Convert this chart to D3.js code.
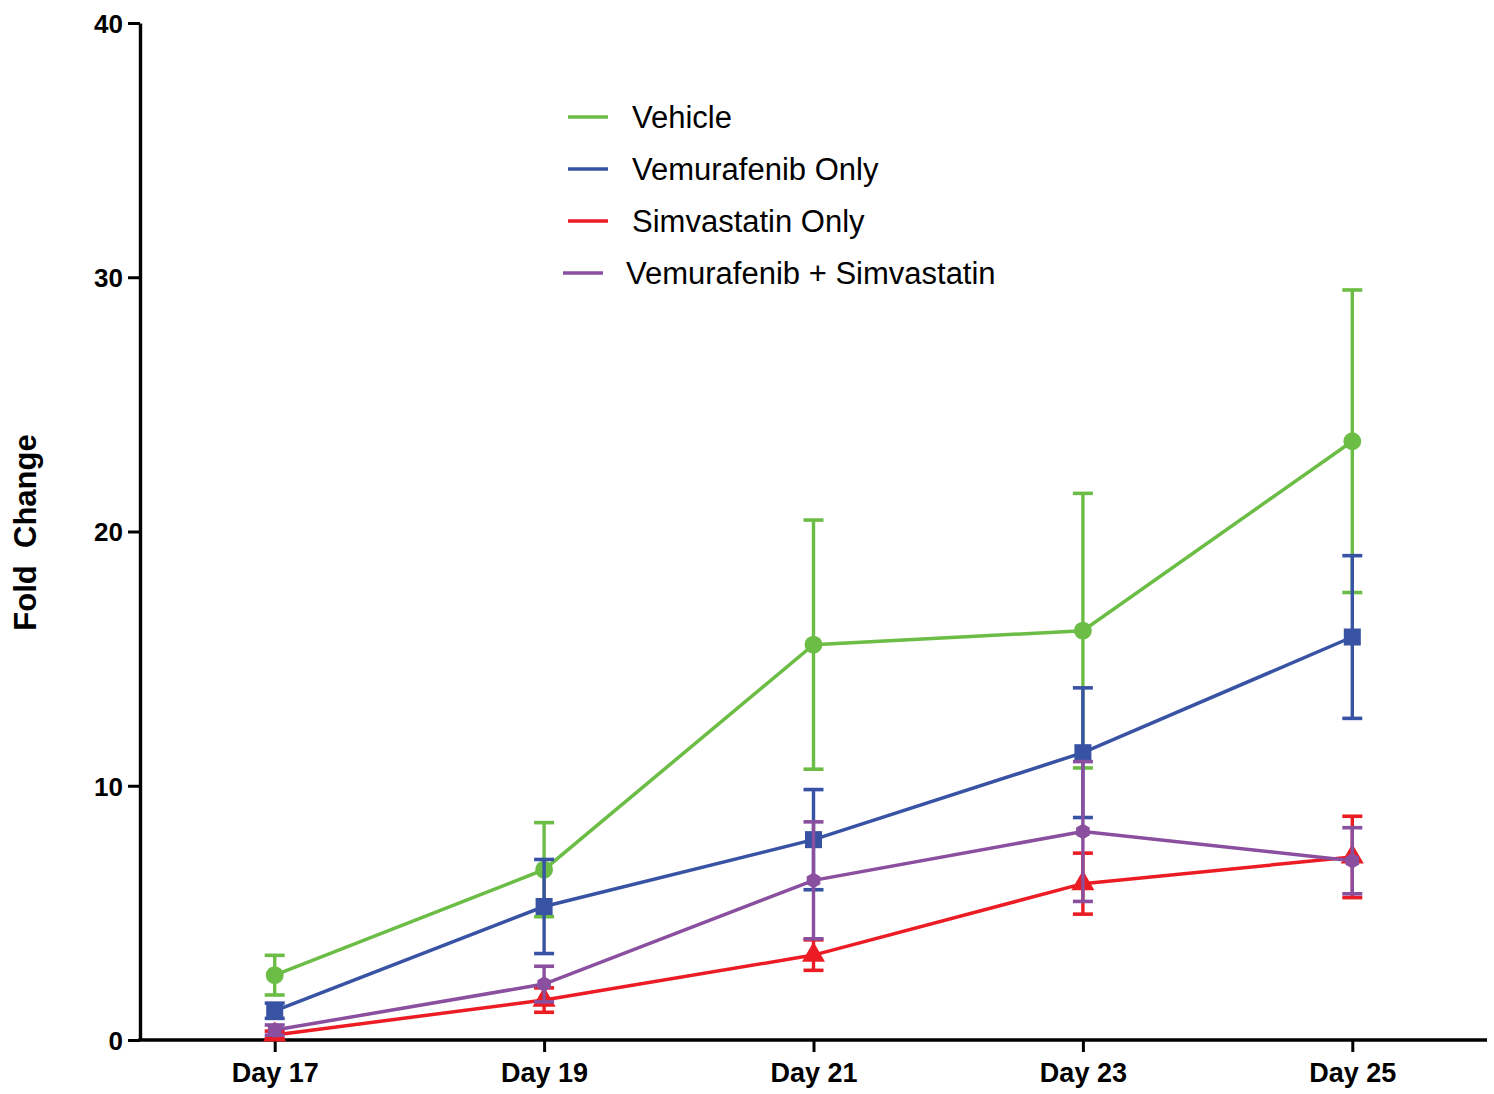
<!DOCTYPE html>
<html>
<head>
<meta charset="utf-8">
<script src="https://cdn.jsdelivr.net/npm/d3@7"></script>
<style>
  html, body { margin: 0; padding: 0; background: #fff; }
  svg { display: block; }
  text { font-family: "Liberation Sans", Arial, sans-serif; }
</style>
</head>
<body>
<svg id="chart" width="1494" height="1094"></svg>
<script>
// Tumour growth (fold change) per treatment group, mean ± error
const days = [17, 19, 21, 23, 25];
const dayLabels = ["Day 17", "Day 19", "Day 21", "Day 23", "Day 25"];
const yTicks = [0, 10, 20, 30, 40];

const seriesNames = ["Vehicle", "Vemurafenib Only", "Simvastatin Only", "Vemurafenib + Simvastatin"];
const seriesColors = ["#6cbd45", "#3953a4", "#ec1c24", "#8a4f9e"];
const seriesSymbols = ["circle", "square", "triangle", "hexagon"];

const vehicleMean = [2.55, 6.7, 15.55, 16.1, 23.55];
const vehicleErr  = [0.78, 1.85, 4.9, 5.4, 5.95];
const vemMean     = [1.15, 5.25, 7.88, 11.3, 15.85];
const vemErr      = [0.3, 1.85, 1.97, 2.55, 3.2];
const simMean     = [0.2, 1.57, 3.34, 6.15, 7.2];
const simErr      = [0.15, 0.48, 0.6, 1.2, 1.6];
const comboMean   = [0.39, 2.2, 6.28, 8.2, 7.05];
const comboErr    = [0.2, 0.7, 2.3, 2.75, 1.3];

const means = [vehicleMean, vemMean, simMean, comboMean];
const errs = [vehicleErr, vemErr, simErr, comboErr];

const svg = d3.select("#chart");

const x = d3.scaleLinear().domain([16, 26]).range([140, 1487]);
const y = d3.scaleLinear().domain([0, 40]).range([1040, 23]);

// Axes
const yAxis = svg.append("g")
  .attr("transform", `translate(${x(16)},0)`)
  .call(d3.axisLeft(y).tickValues(yTicks).tickSize(12).tickPadding(5).tickSizeOuter(0));
const xAxis = svg.append("g")
  .attr("transform", `translate(0,${y(0)})`)
  .call(d3.axisBottom(x).tickValues(days).tickFormat((d, i) => dayLabels[i])
        .tickSize(12).tickPadding(11).tickSizeOuter(0));

[yAxis, xAxis].forEach(g => {
  g.select(".domain").attr("stroke", "#000").attr("stroke-width", 3.4);
  g.selectAll(".tick line").attr("stroke", "#000").attr("stroke-width", 3);
  g.selectAll(".tick text").attr("fill", "#000")
    .style("font-family", "'Liberation Sans', Arial, sans-serif")
    .style("font-weight", "bold").style("font-size", "27px");
});
yAxis.selectAll(".tick text").style("font-size", "26px").attr("dy", "0.36em");
// extend the x axis line under the y axis corner
xAxis.select(".domain").attr("d", `M${x(16) - 1.7},0H${x(26)}`);

// Y axis title
svg.append("text")
  .attr("transform", `translate(36,${(y(0) + y(40)) / 2 + 1}) rotate(-90)`)
  .attr("text-anchor", "middle")
  .style("font-weight", "bold").style("font-size", "31px")
  .style("white-space", "pre")
  .text("Fold  Change");

// Symbol path generators
const hexagon = {
  draw(ctx, size) {
    const r = Math.sqrt(size / (1.5 * Math.sqrt(3)));
    for (let i = 0; i < 6; i++) {
      const a = Math.PI / 6 + i * Math.PI / 3;
      const px = r * Math.cos(a), py = r * Math.sin(a);
      if (i === 0) ctx.moveTo(px, py); else ctx.lineTo(px, py);
    }
    ctx.closePath();
  }
};
const symbolTypes = { circle: d3.symbolCircle, square: d3.symbolSquare, triangle: d3.symbolTriangle, hexagon: hexagon };
const symbolSizes = { circle: 250, square: 290, triangle: 230, hexagon: 160 };

const line = d3.line().x(d => x(d.day)).y(d => y(d.v));
const capHalf = 10;

// Draw each series: error bars, line, markers
seriesNames.forEach((name, s) => {
  const pts = days.map((d, i) => ({ day: d, v: means[s][i], e: errs[s][i] }));
  const g = svg.append("g").attr("class", "series");
  const col = seriesColors[s];

  const eb = g.selectAll("g.err").data(pts).join("g").attr("class", "err");
  eb.append("line")
    .attr("x1", d => x(d.day)).attr("x2", d => x(d.day))
    .attr("y1", d => y(d.v + d.e)).attr("y2", d => y(d.v - d.e))
    .attr("stroke", col).attr("stroke-width", 3.4);
  eb.append("line")
    .attr("x1", d => x(d.day) - capHalf).attr("x2", d => x(d.day) + capHalf)
    .attr("y1", d => y(d.v + d.e)).attr("y2", d => y(d.v + d.e))
    .attr("stroke", col).attr("stroke-width", 3.6);
  eb.append("line")
    .attr("x1", d => x(d.day) - capHalf).attr("x2", d => x(d.day) + capHalf)
    .attr("y1", d => y(d.v - d.e)).attr("y2", d => y(d.v - d.e))
    .attr("stroke", col).attr("stroke-width", 3.6);

  g.append("path").datum(pts)
    .attr("d", line).attr("fill", "none")
    .attr("stroke", col).attr("stroke-width", 3.5);

  const sym = d3.symbol().type(symbolTypes[seriesSymbols[s]]).size(symbolSizes[seriesSymbols[s]]);
  g.selectAll("path.mk").data(pts).join("path").attr("class", "mk")
    .attr("transform", d => `translate(${x(d.day)},${y(d.v)})`)
    .attr("d", sym).attr("fill", col);
});

// Legend
const legendRows = [
  { x1: 568, tx: 632, cy: 117 },
  { x1: 568, tx: 632, cy: 169 },
  { x1: 568, tx: 632, cy: 221 },
  { x1: 563, tx: 626, cy: 273 }
];
const legend = svg.append("g").attr("class", "legend");
seriesNames.forEach((name, s) => {
  const r = legendRows[s];
  legend.append("line")
    .attr("x1", r.x1).attr("x2", r.x1 + 40)
    .attr("y1", r.cy).attr("y2", r.cy)
    .attr("stroke", seriesColors[s]).attr("stroke-width", 3.4);
  legend.append("text")
    .attr("x", r.tx).attr("y", r.cy).attr("dy", "0.35em")
    .style("font-size", "31px").attr("fill", "#000")
    .text(name);
});
</script>
</body>
</html>
